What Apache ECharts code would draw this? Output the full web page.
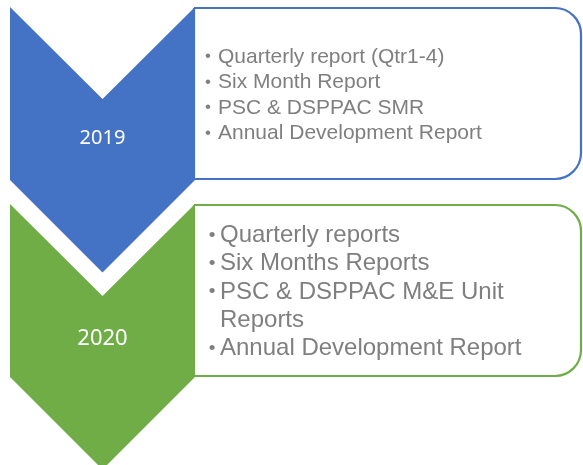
<!DOCTYPE html>
<html>
<head>
<meta charset="utf-8">
<style>
  html, body { margin: 0; padding: 0; background: #fff; }
  #chart { width: 583px; height: 465px; }
</style>
<script src="https://cdn.jsdelivr.net/npm/echarts@6.0.0/dist/echarts.min.js"></script>
</head>
<body>
<div id="chart"></div>
<script>
// 年份（每个阶段一个箭头）
const years = ['2019', '2020'];
// 每个阶段的报告列表
const items2019 = [
  'Quarterly report (Qtr1-4)',
  'Six Month Report',
  'PSC & DSPPAC SMR',
  'Annual Development Report'
];
const items2020 = [
  'Quarterly reports',
  'Six Months Reports',
  'PSC & DSPPAC M&E Unit Reports',
  'Annual Development Report'
];
const stageItems = [items2019, items2020];

// 样式
const stageColors = ['#4472C4', '#70AD47'];
const stageFont = [
  { size: 21, lineH: 25.5, bulletX: 208, textX: 218, yearSize: 20, yearY: 131.5 },
  { size: 24, lineH: 28.3, bulletX: 212, textX: 220, yearSize: 22, yearY: 134.5 }
];
const textColor = '#7F7F7F';
const fontFamily = '"Liberation Sans", Arial, sans-serif';

// 简单的按词换行
const measureCtx = document.createElement('canvas').getContext('2d');
function wrapText (text, fontSize, maxW) {
  measureCtx.font = fontSize + 'px ' + fontFamily;
  const words = text.split(' ');
  const lines = [];
  let cur = '';
  words.forEach(function (w) {
    const test = cur ? cur + ' ' + w : w;
    if (cur && measureCtx.measureText(test).width > maxW) {
      lines.push(cur);
      cur = w;
    } else {
      cur = test;
    }
  });
  lines.push(cur);
  return lines;
}

const chart = echarts.init(document.getElementById('chart'));

function renderItem (params, api) {
  const idx = api.value(1);
  const color = stageColors[idx];
  const f = stageFont[idx];
  const center = api.coord([0, idx]);
  const band = api.size([0, 1])[1];
  const t = center[1] - band / 2;
  const x = function (v) { return api.coord([v, idx])[0]; };

  const left = x(10), right = x(195), mid = x(102.5);
  const boxL = x(194), boxR = x(581);
  const boxTop = t + 1, boxH = 171;

  const children = [];
  // 右侧圆角文本框
  children.push({
    type: 'rect',
    shape: { x: boxL, y: boxTop, width: boxR - boxL, height: boxH, r: [0, 26, 26, 0] },
    style: { fill: '#fff', stroke: color, lineWidth: 2.2 }
  });
  // 箭头形状
  children.push({
    type: 'polygon',
    shape: {
      points: [
        [left, t], [mid, t + 92], [right, t], [right, t + 173],
        [mid, t + 265.5], [left, t + 173]
      ]
    },
    style: { fill: color }
  });
  // 年份
  children.push({
    type: 'text',
    style: {
      text: years[idx], x: mid, y: t + f.yearY,
      fill: '#fff', fontSize: f.yearSize, fontFamily: '"Noto Sans", sans-serif',
      align: 'center', verticalAlign: 'middle'
    }
  });

  // 列表文本
  const lines = [];
  stageItems[idx].forEach(function (item) {
    wrapText(item, f.size, 345).forEach(function (ln, k) {
      lines.push({ text: ln, bullet: k === 0 });
    });
  });
  const boxMid = boxTop + boxH / 2 + 1.5;
  const startY = boxMid - (lines.length - 1) * f.lineH / 2;
  lines.forEach(function (ln, k) {
    const y = startY + k * f.lineH;
    if (ln.bullet) {
      children.push({
        type: 'text',
        style: {
          text: '•', x: x(f.bulletX), y: y, fill: textColor,
          fontSize: f.size * 0.8, fontFamily: fontFamily,
          align: 'center', verticalAlign: 'middle'
        }
      });
    }
    children.push({
      type: 'text',
      style: {
        text: ln.text, x: x(f.textX), y: y, fill: textColor,
        fontSize: f.size, fontFamily: fontFamily,
        align: 'left', verticalAlign: 'middle'
      }
    });
  });

  return { type: 'group', children: children };
}

const option = {
  animation: false,
  grid: { left: 0, right: 0, top: 7, height: 394 },
  xAxis: { type: 'value', min: 0, max: 583, show: false },
  yAxis: { type: 'category', data: years, inverse: true, show: false },
  series: [{
    type: 'custom',
    clip: false,
    renderItem: renderItem,
    data: years.map(function (y, i) { return [0, i]; })
  }]
};
chart.setOption(option);
window.addEventListener('resize', function () { chart.resize(); });
</script>
</body>
</html>
